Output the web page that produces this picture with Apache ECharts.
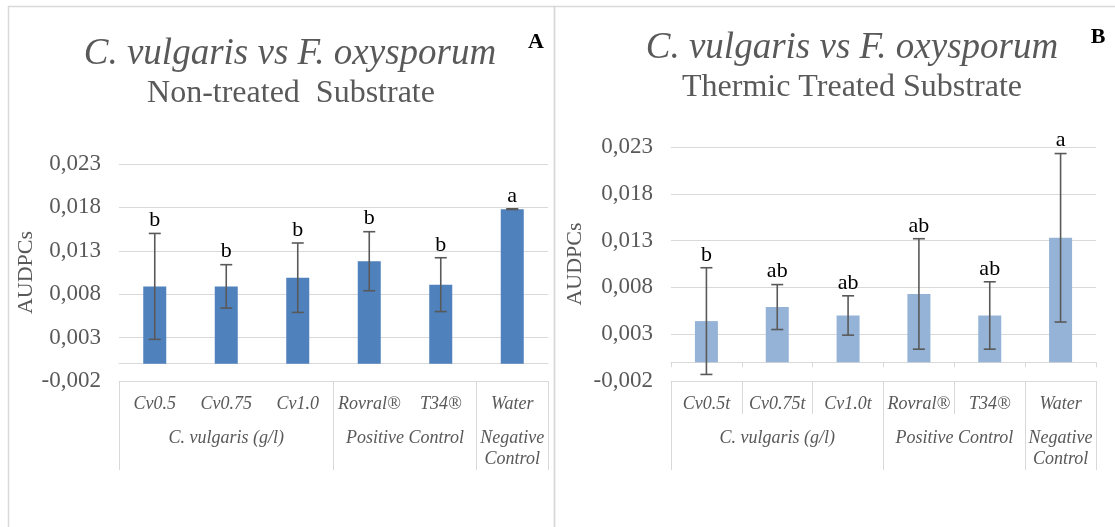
<!DOCTYPE html>
<html>
<head>
<meta charset="utf-8">
<title>C. vulgaris vs F. oxysporum – AUDPCs</title>
<script src="https://cdn.jsdelivr.net/npm/echarts@6/dist/echarts.min.js"></script>
<style>
  html, body { margin: 0; padding: 0; background: #ffffff; }
  #chart { width: 1115px; height: 527px; }
</style>
</head>
<body>
<div id="chart"></div>
<script>
// ---- data ----
const categoriesA = ['Cv0.5', 'Cv0.75', 'Cv1.0', 'Rovral®', 'T34®', 'Water'];
const categoriesB = ['Cv0.5t', 'Cv0.75t', 'Cv1.0t', 'Rovral®', 'T34®', 'Water'];
const groupNames = ['C. vulgaris (g/l)', 'Positive Control', 'Negative\nControl'];
const groupSizes = [3, 2, 1];

// Non-treated substrate (panel A)
const meansA = [0.0089, 0.0089, 0.0099, 0.0118, 0.0091, 0.0178];
const errorsA = [0.0061, 0.0025, 0.0040, 0.0034, 0.0031, 0.00004];
const lettersA = ['b', 'b', 'b', 'b', 'b', 'a'];

// Thermic treated substrate (panel B)
const meansB = [0.0044, 0.0059, 0.0050, 0.0073, 0.0050, 0.0133];
const errorsB = [0.0057, 0.0024, 0.0021, 0.0059, 0.0036, 0.0090];
const lettersB = ['b', 'ab', 'ab', 'ab', 'ab', 'a'];

const yMin = -0.002, yMax = 0.023, yStep = 0.005;

// ---- styles ----
const SERIF = '"Liberation Serif", "DejaVu Serif", serif';
const GREY_TEXT = '#595959';
const GRID_LINE = '#d9d9d9';

// group boundaries and centres along the category span (0..n)
const groupBounds = [0];
groupSizes.forEach(s => groupBounds.push(groupBounds[groupBounds.length - 1] + s));
const groupCentres = groupSizes.map((s, i) => groupBounds[i] + s / 2);

function fmt(v) {
  return v.toFixed(3).replace('.', ',');
}

function yAxisCfg(gridIndex, nameGap) {
  return {
    type: 'value', gridIndex,
    min: yMin, max: yMax, interval: yStep,
    name: 'AUDPCs', nameLocation: 'middle', nameGap,
    nameTextStyle: { fontFamily: SERIF, fontSize: 22, color: GREY_TEXT },
    axisLine: { show: false }, axisTick: { show: false },
    axisLabel: { formatter: fmt, fontFamily: SERIF, fontSize: 23, color: GREY_TEXT, margin: 18 },
    splitLine: { lineStyle: { color: GRID_LINE, width: 1 } }
  };
}

function xAxesCfg(gridIndex, cats, yIdx, separators) {
  return [
    // zero line the bars stand on
    {
      type: 'category', gridIndex, data: cats, position: 'bottom',
      axisLine: { show: true, onZero: true, onZeroAxisIndex: yIdx, lineStyle: { color: GRID_LINE, width: 1 } },
      axisTick: { show: separators, length: 5, lineStyle: { color: GRID_LINE } },
      axisLabel: { show: false }, splitLine: { show: false }
    },
    // first row of the label table: treatments
    {
      type: 'category', gridIndex, data: cats, position: 'bottom',
      axisLine: { show: true, onZero: false, lineStyle: { color: GRID_LINE, width: 1 } },
      axisTick: { show: separators, length: 33, interval: 0, lineStyle: { color: GRID_LINE } },
      axisLabel: { interval: 0, margin: 14, fontFamily: SERIF, fontStyle: 'italic', fontSize: 18, color: GREY_TEXT },
      splitLine: { show: false }
    },
    // second row: treatment groups
    {
      type: 'value', gridIndex, min: 0, max: cats.length, position: 'bottom',
      axisLine: { show: false, onZero: false },
      axisTick: { show: true, customValues: groupBounds, length: 89, lineStyle: { color: GRID_LINE } },
      axisLabel: {
        customValues: groupCentres, margin: 47,
        formatter: v => groupNames[groupCentres.indexOf(v)] || '',
        fontFamily: SERIF, fontStyle: 'italic', fontSize: 18, lineHeight: 21, color: GREY_TEXT
      },
      splitLine: { show: false }
    }
  ];
}

function errorSeries(xIdx, yIdx, means, errors, letters) {
  return {
    type: 'custom', xAxisIndex: xIdx, yAxisIndex: yIdx, z: 5,
    data: means.map((m, i) => [i, m - errors[i], m + errors[i]]),
    encode: { x: 0, y: [1, 2] },
    renderItem: function (params, api) {
      const i = api.value(0);
      const lo = api.coord([i, api.value(1)]);
      const hi = api.coord([i, api.value(2)]);
      const cap = 6;
      const stroke = { stroke: '#595959', lineWidth: 1.6 };
      return {
        type: 'group',
        children: [
          { type: 'line', shape: { x1: hi[0], y1: hi[1], x2: lo[0], y2: lo[1] }, style: stroke },
          { type: 'line', shape: { x1: hi[0] - cap, y1: hi[1], x2: hi[0] + cap, y2: hi[1] }, style: stroke },
          { type: 'line', shape: { x1: lo[0] - cap, y1: lo[1], x2: lo[0] + cap, y2: lo[1] }, style: stroke },
          {
            type: 'text',
            style: {
              text: letters[params.dataIndex], x: hi[0], y: hi[1] - 2,
              align: 'center', verticalAlign: 'bottom',
              font: '22px ' + SERIF, fill: '#000000'
            }
          }
        ]
      };
    }
  };
}

const chart = echarts.init(document.getElementById('chart'), null, { renderer: 'canvas' });

chart.setOption({
  animation: false,
  backgroundColor: '#ffffff',
  graphic: [
    { type: 'rect', silent: true, shape: { x: 8.5, y: 6.5, width: 546, height: 600 },
      style: { fill: 'none', stroke: GRID_LINE, lineWidth: 1.5 } },
    { type: 'rect', silent: true, shape: { x: 554.5, y: 6.5, width: 620, height: 600 },
      style: { fill: 'none', stroke: GRID_LINE, lineWidth: 1.5 } }
  ],
  title: [
    { text: 'C. vulgaris vs F. oxysporum', left: 290, top: 36, textAlign: 'center', padding: 0,
      textStyle: { fontFamily: SERIF, fontStyle: 'italic', fontWeight: 'normal', fontSize: 37, color: GREY_TEXT } },
    { text: 'Non-treated  Substrate', left: 291, top: 78, textAlign: 'center', padding: 0,
      textStyle: { fontFamily: SERIF, fontWeight: 'normal', fontSize: 32, color: GREY_TEXT } },
    { text: 'A', left: 536, top: 31, textAlign: 'center', padding: 0,
      textStyle: { fontFamily: SERIF, fontWeight: 'bold', fontSize: 22, color: '#000000' } },
    { text: 'C. vulgaris vs F. oxysporum', left: 852, top: 30, textAlign: 'center', padding: 0,
      textStyle: { fontFamily: SERIF, fontStyle: 'italic', fontWeight: 'normal', fontSize: 37, color: GREY_TEXT } },
    { text: 'Thermic Treated Substrate', left: 852, top: 72, textAlign: 'center', padding: 0,
      textStyle: { fontFamily: SERIF, fontWeight: 'normal', fontSize: 32, color: GREY_TEXT } },
    { text: 'B', left: 1098, top: 26, textAlign: 'center', padding: 0,
      textStyle: { fontFamily: SERIF, fontWeight: 'bold', fontSize: 22, color: '#000000' } }
  ],
  grid: [
    { left: 119, right: 567, top: 164, bottom: 146 },
    { left: 671, right: 19, top: 147, bottom: 146 }
  ],
  xAxis: [
    ...xAxesCfg(0, categoriesA, 0, false),
    ...xAxesCfg(1, categoriesB, 1, true)
  ],
  yAxis: [yAxisCfg(0, 82), yAxisCfg(1, 85)],
  series: [
    { type: 'bar', xAxisIndex: 0, yAxisIndex: 0, data: meansA, barWidth: 23,
      itemStyle: { color: '#4f81bd' } },
    errorSeries(0, 0, meansA, errorsA, lettersA),
    { type: 'bar', xAxisIndex: 3, yAxisIndex: 1, data: meansB, barWidth: 23,
      itemStyle: { color: '#95b3d7' } },
    errorSeries(3, 1, meansB, errorsB, lettersB)
  ]
});
</script>
</body>
</html>
